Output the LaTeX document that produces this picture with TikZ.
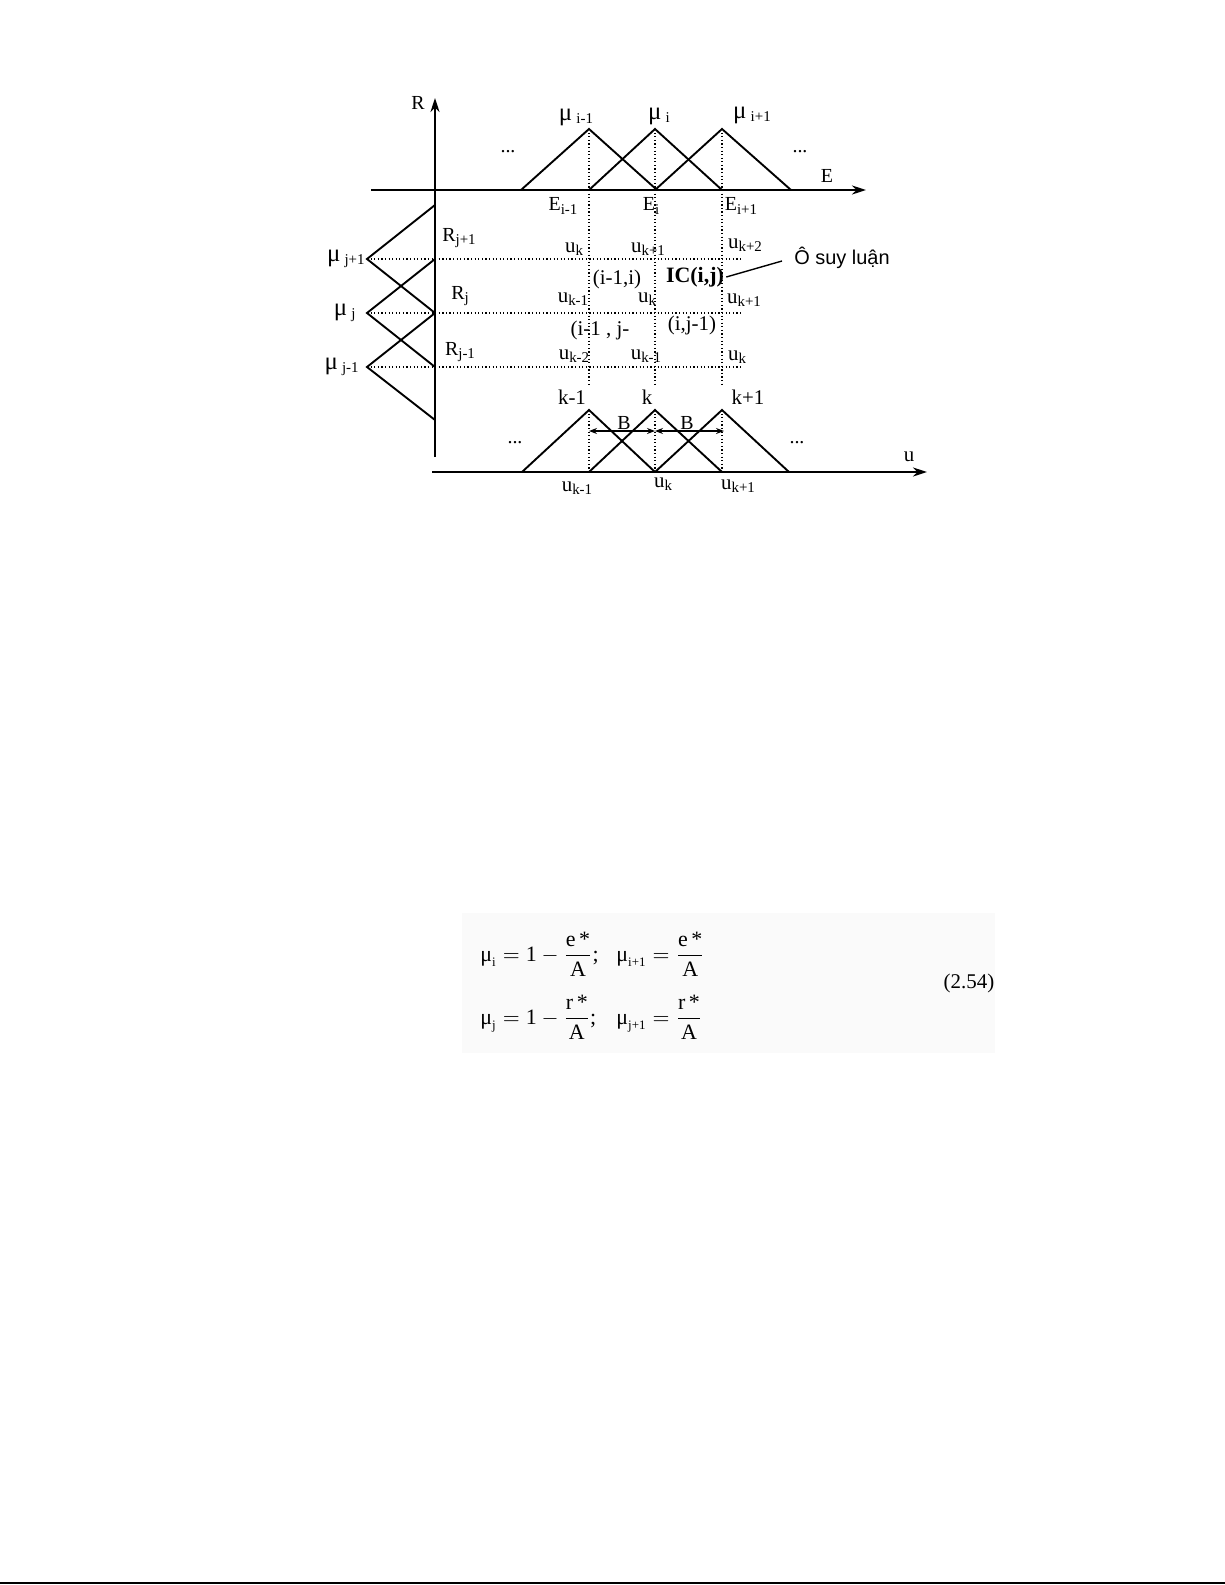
\documentclass[tikz,border=0pt]{standalone}
\usepackage{fontspec}
\setmainfont{Liberation Serif}
\newfontfamily\sansvn{Liberation Sans}
\usetikzlibrary{arrows.meta}
\newcommand\sbs[1]{\raisebox{-0.35ex}{\fontsize{7.5}{8}\selectfont #1}}
\newcommand\msub[1]{\raisebox{-0.3ex}{\fontsize{7.5}{8}\selectfont #1}}
\begin{document}
\begin{tikzpicture}[x=0.5bp,y=-0.5bp,
  axisline/.style={line width=1.1pt,-{Stealth[length=7bp,width=4.5bp]}},
  tri/.style={line width=0.95pt,line join=miter},
  gridline/.style={dash pattern=on 0.6pt off 1.2pt,line width=0.6pt},
  barrow/.style={line width=0.6pt,{Stealth[length=4bp,width=3bp]}-{Stealth[length=4bp,width=3bp]}},
  lbl/.style={font=\fontsize{10}{11}\selectfont,inner sep=1pt},
  ulbl/.style={font=\fontsize{10.5}{11}\selectfont,inner sep=1pt},
  mulbl/.style={font=\fontsize{12.5}{13}\selectfont,inner sep=1pt},
  klbl/.style={font=\fontsize{10.5}{11}\selectfont,inner sep=1pt},
  eqn/.style={font=\fontsize{11}{13}\selectfont,inner sep=0pt,anchor=west}]
\useasboundingbox (0,0) rectangle (1225,1585);

% formula background
\fill[black!2] (462,913) rectangle (995,1053);

% axes
\coordinate (Rb) at (435,457); \coordinate (Rt) at (435,98);
\coordinate (Ea) at (371,190); \coordinate (Eb) at (866,190);
\coordinate (ua) at (432,472); \coordinate (ub) at (927,472);
\draw[axisline] (Rb) -- (Rt);
\draw[axisline] (Ea) -- (Eb);
\draw[axisline] (ua) -- (ub);

% top triangles
\draw[tri] (521,190) -- (589,129) -- (657,190);
\draw[tri] (589,190) -- (655,129) -- (722,190);
\draw[tri] (655,190) -- (722,129) -- (791,190);

% bottom triangles
\draw[tri] (522,472) -- (589,410) -- (655,472);
\draw[tri] (589,472) -- (655,410) -- (722,472);
\draw[tri] (655,472) -- (722,410) -- (789,472);

% left triangles
\draw[tri] (435,205) -- (367,259) -- (435,313);
\draw[tri] (435,259) -- (367,313) -- (435,367);
\draw[tri] (435,313) -- (367,367) -- (435,420);

% dotted grid
\draw[gridline] (367,259) -- (743,259);
\draw[gridline] (367,313) -- (743,313);
\draw[gridline] (367,367) -- (743,367);
\foreach \xx in {589,655,722}{
  \draw[gridline] (\xx,129) -- (\xx,384);
  \draw[gridline] (\xx,410) -- (\xx,472);
}

% B arrows
\draw[barrow] (589,431) -- (655,431);
\draw[barrow] (655,431) -- (724,431);

% top labels
\node[lbl] (lR) at (418,103) {R};
\node[mulbl] (mi1) at (576,117) {μ\,\msub{i-1}};
\node[mulbl] (mi) at (659,116) {μ\,\msub{i}};
\node[mulbl] (mi2) at (752,115) {μ\,\msub{i+1}};
\node[lbl] (d1) at (508,152) {...};
\node[lbl] (d2) at (800,152) {...};
\node[lbl] (lE) at (827,176) {E};
\node[lbl] (Ei1) at (563,206) {E\sbs{i-1}};
\node[lbl] (Ei) at (651,206) {E\sbs{i}};
\node[lbl] (Ei2) at (741,206) {E\sbs{i+1}};

% left labels
\node[mulbl,anchor=east] (mj2) at (367,259) {μ\,\msub{j+1}};
\node[mulbl,anchor=east] (mj) at (358,313) {μ\,\msub{j}};
\node[mulbl,anchor=east] (mj1) at (361,367) {μ\,\msub{j-1}};
\node[lbl] (Rj2) at (459,238) {R\sbs{j+1}};
\node[lbl] (Rj) at (460,296) {R\sbs{j}};
\node[lbl] (Rj1) at (460,352) {R\sbs{j-1}};

% grid labels
\node[ulbl] (a1) at (574,249) {u\sbs{k}};
\node[ulbl] (a2) at (648,249) {u\sbs{k+1}};
\node[ulbl] (a3) at (745,245) {u\sbs{k+2}};
\node[ulbl] (b1) at (573,299) {u\sbs{k-1}};
\node[ulbl] (b2) at (647,299) {u\sbs{k}};
\node[ulbl] (b3) at (744,300) {u\sbs{k+1}};
\node[ulbl] (c1) at (574,356) {u\sbs{k-2}};
\node[ulbl] (c2) at (646,356) {u\sbs{k-1}};
\node[ulbl] (c3) at (737,357) {u\sbs{k}};
\node[klbl] (cell1) at (617,279) {(i-1,i)};
\node[inner sep=1pt,font=\fontsize{11}{12}\selectfont\bfseries] (ic) at (695,277) {IC(i,j)};
\node[klbl] (cell3) at (600,330) {(i-1 , j-};
\node[klbl] (cell4) at (692,325) {(i,j-1)};
\node[inner sep=1pt,font=\sansvn\fontsize{10}{11}\selectfont] (osl) at (842,258) {Ô suy luận};
\coordinate (oend) at (782,261);
\draw[line width=0.7pt] (ic.east) -- (oend);

% bottom labels
\node[klbl] (k1) at (572,397) {k-1};
\node[klbl] (k0) at (647,397) {k};
\node[klbl] (k2) at (748,397) {k+1};
\node[lbl] (B1) at (624,423) {B};
\node[lbl] (B2) at (687,423) {B};
\node[lbl] (d3) at (515,443) {...};
\node[lbl] (d4) at (797,443) {...};
\node[klbl] (lu) at (909,457) {u};
\node[ulbl] (e1) at (577,488) {u\sbs{k-1}};
\node[ulbl] (e2) at (663,484) {u\sbs{k}};
\node[ulbl] (e3) at (738,486) {u\sbs{k+1}};

% formula
\node[eqn] (f1) at (480,954) {$\mbox{μ}_{\mbox{\fontsize{6.5}{7}\selectfont i}} = \mbox{1} - {\displaystyle\frac{\mbox{e\,*}}{\mbox{A}}}$;};
\node[eqn] (f2) at (616,954) {$\mbox{μ}_{\mbox{\fontsize{6.5}{7}\selectfont i+1}} = {\displaystyle\frac{\mbox{e\,*}}{\mbox{A}}}$};
\node[eqn] (f3) at (480,1017) {$\mbox{μ}_{\mbox{\fontsize{6.5}{7}\selectfont j}} = \mbox{1} - {\displaystyle\frac{\mbox{r\,*}}{\mbox{A}}}$;};
\node[eqn] (f4) at (616,1017) {$\mbox{μ}_{\mbox{\fontsize{6.5}{7}\selectfont j+1}} = {\displaystyle\frac{\mbox{r\,*}}{\mbox{A}}}$};
\node[font=\fontsize{10.5}{12}\selectfont,inner sep=0pt] (eqno) at (969,983) {(2.54)};

% bottom rule
\draw[line width=1.2pt] (0,1583) -- (1225,1583);
\end{tikzpicture}
\end{document}
